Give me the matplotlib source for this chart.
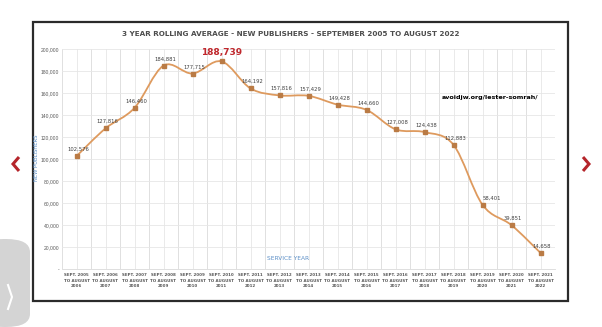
import numpy as np
import matplotlib
matplotlib.use("Agg")
import matplotlib.pyplot as plt
from matplotlib.path import Path
from matplotlib.patches import PathPatch, Rectangle, FancyBboxPatch
from matplotlib.lines import Line2D
from matplotlib.ticker import FuncFormatter

# data
start_years = list(range(2005, 2022))
publishers = [102576, 127816, 146460, 184881, 177715, 188739, 164192, 157816,
              157429, 149428, 144660, 127008, 124438, 112883, 58401, 39851, 14658]
tick_labels = ["SEPT. %d\nTO AUGUST\n%d" % (y, y + 1) for y in start_years]
y_ticks = list(range(0, 200001, 20000))

line_color = "#DE9A5E"
marker_color = "#BA7B45"
text_gray = "#595959"
blue = "#5B8FC7"

fig = plt.figure(figsize=(6.02, 3.27), dpi=100)
fig.patch.set_facecolor("white")

W, H = 602.0, 327.0
ax = fig.add_axes([62 / W, 1 - 269 / H, (555 - 62) / W, (269 - 49) / H])

x = np.arange(len(publishers))
y = np.array(publishers, dtype=float)

# smoothed line (catmull-rom as bezier, like excel's smoothed line)
pts = np.column_stack([x, y])
verts = [pts[0]]
codes = [Path.MOVETO]
n = len(pts)
for i in range(n - 1):
    p0 = pts[i - 1] if i > 0 else pts[i]
    p1 = pts[i]
    p2 = pts[i + 1]
    p3 = pts[i + 2] if i + 2 < n else pts[i + 1]
    c1 = p1 + (p2 - p0) / 6.0
    c2 = p2 - (p3 - p1) / 6.0
    verts += [c1, c2, p2]
    codes += [Path.CURVE4] * 3
ax.add_patch(PathPatch(Path(verts, codes), facecolor="none",
                       edgecolor=line_color, lw=1.3, zorder=3))
ax.plot(x, y, ls="none", marker="s", ms=2.8, color=marker_color, zorder=4)

# data labels
for i, v in enumerate(publishers):
    dx, dy = 1, 3
    if i == 14:
        dx = 7
    if i == 5:
        ax.annotate("{:,}".format(v), (x[i], v), xytext=(0, 3),
                    textcoords="offset points", ha="center", va="bottom",
                    fontsize=6.5, fontweight="bold", color="#C0282D")
        continue
    ax.annotate("{:,}".format(v), (x[i], v), xytext=(dx, dy),
                textcoords="offset points", ha="center", va="bottom",
                fontsize=3.8, color="#404040")

ax.set_xlim(-0.5, len(publishers) - 0.5)
ax.set_ylim(0, 200000)
ax.set_xticks(x)
ax.set_xticklabels(tick_labels, fontsize=2.9, fontweight="bold",
                   color=text_gray, linespacing=1.5)
ax.set_xticks(np.arange(-0.5, len(publishers), 1.0), minor=True)
ax.set_yticks(y_ticks)
ax.yaxis.set_major_formatter(FuncFormatter(lambda v, p: "-" if v == 0 else "{:,}".format(int(v))))
ax.tick_params(axis="y", labelsize=3.6, labelcolor=text_gray, length=0, pad=2)
for lab in ax.get_yticklabels():
    lab.set_family("Liberation Sans")
ax.tick_params(axis="x", which="both", length=0, pad=3)

ax.grid(True, which="major", axis="both", color="#E6E6E6", lw=0.6)
ax.grid(True, which="minor", axis="x", color="#DADADA", lw=0.6)
ax.set_axisbelow(True)
for s in ax.spines.values():
    s.set_visible(False)
ax.spines["bottom"].set_visible(True)
ax.spines["bottom"].set_color("#D9D9D9")
ax.spines["bottom"].set_linewidth(0.6)

fig.text(36 / W, 1 - 158 / H, "NEW PUBLISHERS", fontsize=3.8, color=blue,
         rotation=90, ha="center", va="center")
fig.text(288 / W, 1 - 259 / H, "SERVICE YEAR", fontsize=4.2, color=blue,
         ha="center", va="center")
ax.text((490 - 62) / (555 - 62), 1 - (97 - 49) / 220.0, "avoidjw.org/lester-somrah/",
        transform=ax.transAxes, fontsize=4.6, fontweight="bold", color="black",
        ha="center", va="center")

# title and frame
fig.text(291 / W, 1 - 34 / H,
         "3 YEAR ROLLING AVERAGE - NEW PUBLISHERS - SEPTEMBER 2005 TO AUGUST 2022",
         fontsize=5.2, fontweight="bold", color="#4D4D4D", ha="center", va="center")
fig.patches.append(Rectangle((33 / W, 1 - 301 / H), (568 - 33) / W, (301 - 22) / H,
                             transform=fig.transFigure, fill=False,
                             edgecolor="#2B2B2B", lw=1.6))

# slideshow chevrons and side tab
red = "#B5252B"
for cx, d in [(16, 1), (586, -1)]:
    xs = [(cx + 3 * d) / W, (cx - 3 * d) / W, (cx + 3 * d) / W]
    ys = [1 - 157 / H, 1 - 164 / H, 1 - 171 / H]
    fig.lines.append(Line2D(xs, ys, transform=fig.transFigure, color=red, lw=2.2,
                            solid_capstyle="butt", solid_joinstyle="miter"))
fig.patches.append(FancyBboxPatch((-20 / W, 1 - 327 / H), 50 / W, 88 / H,
                                  boxstyle="round,pad=0,rounding_size=0.04",
                                  transform=fig.transFigure, facecolor="#D4D4D4",
                                  edgecolor="none"))
fig.lines.append(Line2D([8 / W, 12 / W, 8 / W], [1 - 285 / H, 1 - 297 / H, 1 - 309 / H],
                        transform=fig.transFigure, color="white", lw=1.5))

fig.savefig("out.png", dpi=100)
